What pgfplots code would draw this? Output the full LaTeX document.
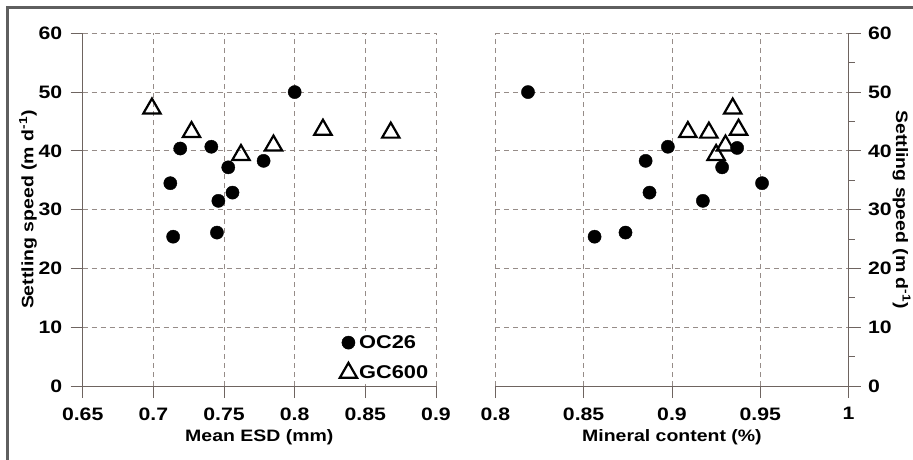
\documentclass[border=0pt]{standalone}
\usepackage{fontspec}
\setmainfont{Liberation Sans}[FakeStretch=1.18]
\usepackage{pgfplots}
\pgfplotsset{compat=1.18}
\definecolor{gridc}{RGB}{150,140,136}
\definecolor{axc}{RGB}{110,100,96}
\definecolor{framec}{RGB}{95,95,95}
\pgfplotsset{
  myax/.style={
    scale only axis, width=353.3pt, height=352.7pt,
    ymin=0, ymax=60, ytick={0,10,20,30,40,50,60}, yticklabels={0,10,20,30,40,50,60},
    grid=major, grid style={gridc, line width=0.8pt, dash pattern=on 5pt off 4pt},
    axis line style={axc, line width=0.9pt},
    tick style={axc, line width=0.9pt},
    major tick length=12pt, minor tick length=6pt, tick align=outside,
    clip=false,
    ticklabel style={font=\fontsize{18}{21}\selectfont\bfseries},
    xticklabel style={yshift=-6pt},
  },
  oc/.style={only marks, mark=*, mark size=6.6pt, mark options={fill=black, draw=black}},
  gc/.style={only marks, mark=triangle, mark size=10pt, mark options={draw=black, line width=2.2pt, line join=miter, fill=none}},
}
\begin{document}
\begin{tikzpicture}
\useasboundingbox (0pt,0pt) rectangle (913pt,459pt);
\draw[framec, line width=2.5pt] (7.5pt,-5pt) -- (7.5pt,451.5pt) -- (920pt,451.5pt);
\begin{scope}[xshift=82.7pt, yshift=73pt]
\begin{axis}[myax,
  xmin=0.65, xmax=0.9,
  xtick={0.65,0.7,0.75,0.8,0.85,0.9}, xticklabels={0.65,0.7,0.75,0.8,0.85,0.9},
  axis x line*=bottom, axis y line*=left,
  yticklabel style={xshift=-5pt},
  xlabel={Mean ESD (mm)},
  ylabel={Settling speed (m d\textsuperscript{-1})},
  every axis x label/.style={at={(axis description cs:0.5,-0.158)}, anchor=base, font=\fontsize{16.5}{20}\selectfont\bfseries},
  every axis y label/.style={at={(axis description cs:-0.155,0.5)}, anchor=center, rotate=90, font=\fontsize{16.5}{20}\selectfont\bfseries},
  legend cell align=left,
  legend style={at={(rel axis cs:0.99,0.005)}, anchor=south east, draw=none, fill=white,
    font=\fontsize{18.5}{22}\selectfont\bfseries, row sep=11pt, inner sep=2pt},
]
\addplot[oc] coordinates {
(0.800,50.0) (0.719,40.4) (0.741,40.7) (0.712,34.5) (0.753,37.2)
(0.778,38.3) (0.756,32.9) (0.746,31.5) (0.714,25.4) (0.745,26.1)
};
\addlegendentry{OC26}
\addplot[gc] coordinates {
(0.699,47.2) (0.727,43.2) (0.762,39.3) (0.785,40.9) (0.820,43.6) (0.868,43.1)
};
\addlegendentry{GC600}
\end{axis}
\end{scope}
\begin{scope}[xshift=495.3pt, yshift=73pt]
\begin{axis}[myax,
  xmin=0.8, xmax=1,
  xtick={0.8,0.85,0.9,0.95,1}, xticklabels={0.8,0.85,0.9,0.95,1},
  axis x line*=bottom, axis y line*=right,
  yticklabel style={xshift=4pt},
  minor y tick num=1,
  xlabel={Mineral content (\%)},
  ylabel={Settling speed (m d\textsuperscript{-1})},
  every axis x label/.style={at={(axis description cs:0.5,-0.158)}, anchor=base, font=\fontsize{16.5}{20}\selectfont\bfseries},
  every axis y label/.style={at={(axis description cs:1.15,0.5)}, anchor=center, rotate=-90, font=\fontsize{16.5}{20}\selectfont\bfseries},
]
\addplot[oc] coordinates {
(0.8185,50.0) (0.8977,40.7) (0.8851,38.3) (0.8873,32.9) (0.9175,31.5)
(0.9284,37.2) (0.9369,40.5) (0.951,34.5) (0.8562,25.4) (0.8737,26.1)
};
\addplot[gc] coordinates {
(0.9344,47.2) (0.909,43.2) (0.9209,43.1) (0.9377,43.6) (0.9303,40.9) (0.925,39.3)
};
\end{axis}
\end{scope}
\end{tikzpicture}
\end{document}
